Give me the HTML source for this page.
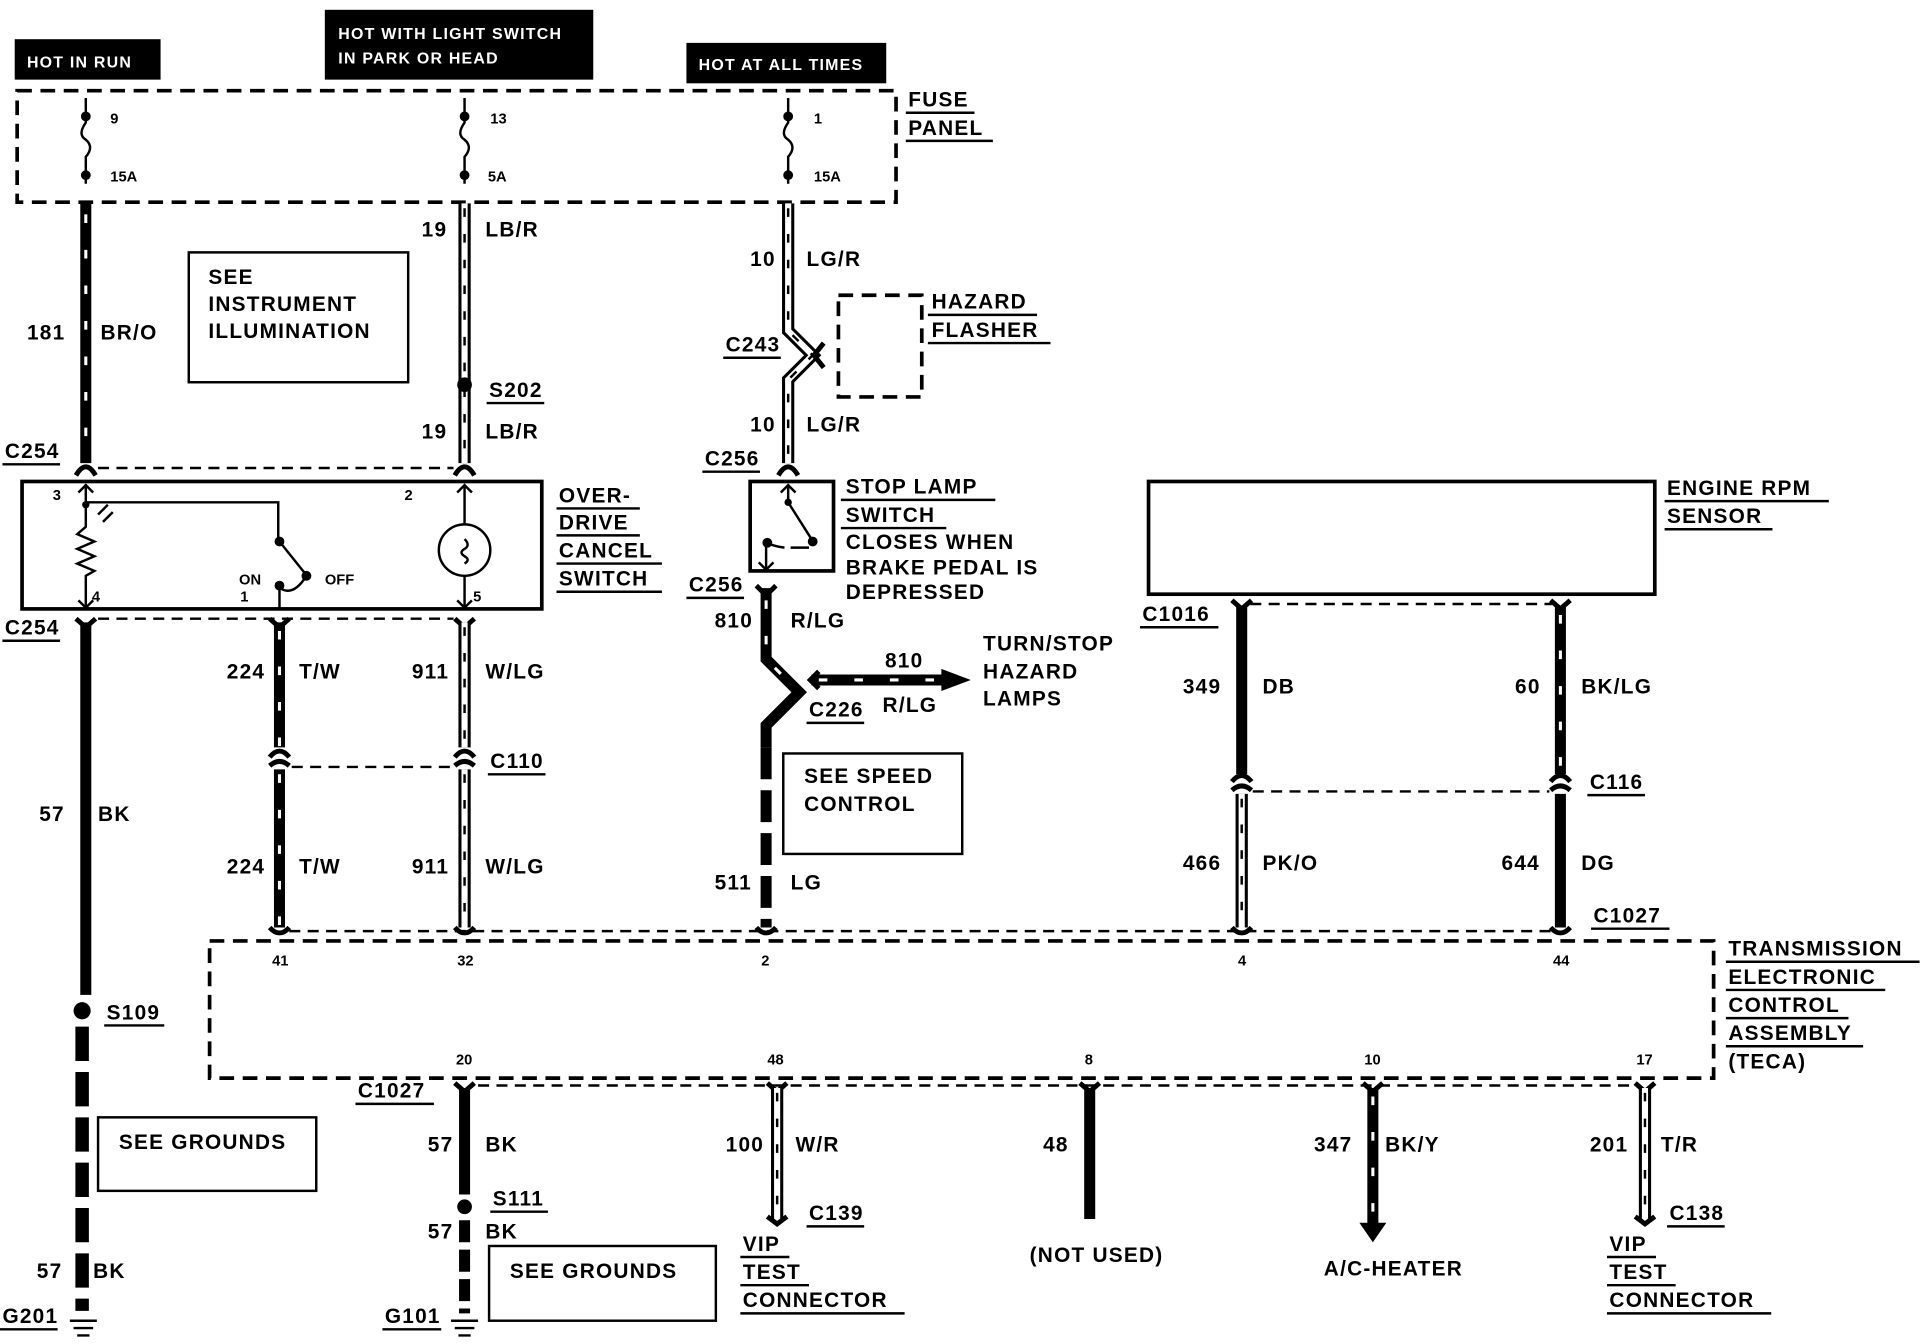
<!DOCTYPE html>
<html><head><meta charset="utf-8"><style>
html,body{margin:0;padding:0;background:#fff}
svg{display:block}
text{font-family:"Liberation Sans",sans-serif;font-size:17px;font-weight:bold;fill:#000;letter-spacing:1px}
.s{font-size:12px;letter-spacing:0}
.bw{stroke:#000;stroke-width:9;fill:none}
.bd{stroke:#fff;stroke-width:2.5;stroke-dasharray:7 22;fill:none}
.wo{stroke:#000;stroke-width:10;fill:none}
.wi{stroke:#fff;stroke-width:5;fill:none}
.wd{stroke:#000;stroke-width:2;stroke-dasharray:7 14;fill:none}
.dl{stroke:#000;stroke-width:2;stroke-dasharray:9 6;fill:none}
.db{stroke:#000;stroke-width:3;stroke-dasharray:12 7;fill:none}
.bx{stroke:#000;stroke-width:2;fill:none}
.ln{stroke:#000;stroke-width:2;fill:none}
.cn{stroke:#000;stroke-width:4;fill:none}
</style></head><body>
<svg width="1922" height="1344" viewBox="0 0 1568 1097" preserveAspectRatio="none" xmlns="http://www.w3.org/2000/svg">
<!-- header boxes -->
<rect x="12" y="32" width="119" height="33" fill="#000"/>
<text x="22" y="55" fill="#fff" style="fill:#fff;font-size:13px">HOT IN RUN</text>
<rect x="265" y="8" width="219" height="57" fill="#000"/>
<text x="276" y="32" style="fill:#fff;font-size:13px">HOT WITH LIGHT SWITCH</text>
<text x="276" y="52" style="fill:#fff;font-size:13px">IN PARK OR HEAD</text>
<rect x="560" y="35" width="163" height="33" fill="#000"/>
<text x="570" y="57" style="fill:#fff;font-size:13px">HOT AT ALL TIMES</text>
<!-- fuse panel -->
<rect x="14" y="74" width="717" height="91" class="db"/>
<text x="741" y="87">FUSE</text><line x1="739" y1="92" x2="795" y2="92" class="ln"/>
<text x="741" y="110">PANEL</text><line x1="739" y1="115" x2="810" y2="115" class="ln"/>
<g>
<circle cx="70" cy="95" r="4"/><circle cx="70" cy="143" r="4"/>
<path d="M70 80 V100 q-7 10 0 14 q7 6 0 14 V150" class="ln" stroke-width="2.5"/>
<text x="90" y="101" class="s">9</text><text x="90" y="148" class="s">15A</text>
<circle cx="379" cy="95" r="4"/><circle cx="379" cy="143" r="4"/>
<path d="M379 80 V100 q-7 10 0 14 q7 6 0 14 V150" class="ln" stroke-width="2.5"/>
<text x="400" y="101" class="s">13</text><text x="398" y="148" class="s">5A</text>
<circle cx="643" cy="95" r="4"/><circle cx="643" cy="143" r="4"/>
<path d="M643 80 V100 q-7 10 0 14 q7 6 0 14 V150" class="ln" stroke-width="2.5"/>
<text x="664" y="101" class="s">1</text><text x="664" y="148" class="s">15A</text>
</g>
<!-- 181 BR/O -->
<path d="M70 166 V378" class="bw"/><path d="M70 175 V378" class="bd"/>
<text x="22" y="277">181</text><text x="82" y="277">BR/O</text>
<rect x="154" y="206" width="179" height="106" class="bx"/>
<text x="170" y="232">SEE</text><text x="170" y="254">INSTRUMENT</text><text x="170" y="276">ILLUMINATION</text>
<!-- LB/R -->
<path d="M379 166 V378" class="wo"/><path d="M379 166 V378" class="wi"/><path d="M379 170 V378" class="wd"/>
<circle cx="379" cy="314" r="6"/>
<text x="344" y="193">19</text><text x="396" y="193">LB/R</text>
<text x="399" y="324">S202</text><line x1="397" y1="329" x2="444" y2="329" class="ln"/>
<text x="344" y="358">19</text><text x="396" y="358">LB/R</text>
<!-- C254 top -->
<text x="4" y="374">C254</text><line x1="2" y1="379" x2="49" y2="379" class="ln"/>
<path d="M62 388 Q70 374 78 388 M371 388 Q379 374 387 388" class="cn"/>
<line x1="80" y1="382" x2="370" y2="382" class="dl"/>
<!-- overdrive box -->
<rect x="18" y="393" width="424" height="104" fill="none" stroke="#000" stroke-width="3"/>
<text x="43" y="408" class="s">3</text><text x="330" y="408" class="s">2</text>
<path d="M70 395 V410 M70 410 H227 V442 M70 410 V430 l-7 6 14 6 -14 6 14 6 -14 6 14 6 -7 4 V495" class="ln" stroke-width="2.5"/>
<path d="M64 402 L70 396 L76 402 M64 490 L70 496 L76 490" class="ln"/>
<circle cx="70" cy="412" r="3"/>
<path d="M80 420 l8 -8 M84 426 l8 -8" class="ln"/>
<circle cx="228" cy="442" r="4"/><path d="M228 442 L248 467" class="ln" stroke-width="2.5"/><circle cx="250" cy="470" r="4"/><circle cx="228" cy="478" r="4"/>
<path d="M228 478 V497 M230 481 Q240 486 250 470" class="ln"/>
<text x="195" y="477" class="s">ON</text><text x="265" y="477" class="s">OFF</text>
<text x="75" y="491" class="s">4</text><text x="196" y="491" class="s">1</text><text x="386" y="491" class="s">5</text>
<path d="M379 396 V428 M379 470 V496 M373 402 L379 396 L385 402 M373 490 L379 496 L385 490" class="ln" stroke-width="2.5"/>
<circle cx="379" cy="449" r="21" class="ln" stroke-width="2.5"/>
<path d="M379 440 q5 5 0 8 q-5 3 0 6 q5 3 0 6" class="ln"/>
<text x="456" y="410">OVER-</text><line x1="454" y1="415" x2="522" y2="415" class="ln"/>
<text x="456" y="432">DRIVE</text><line x1="454" y1="437" x2="522" y2="437" class="ln"/>
<text x="456" y="455">CANCEL</text><line x1="454" y1="460" x2="540" y2="460" class="ln"/>
<text x="456" y="478">SWITCH</text><line x1="454" y1="483" x2="540" y2="483" class="ln"/>
<!-- C254 bottom -->
<text x="4" y="518">C254</text><line x1="2" y1="523" x2="49" y2="523" class="ln"/>
<path d="M62 505 L70 512 L78 505 M220 505 L228 512 L236 505 M371 505 L379 512 L387 505" class="cn"/>
<line x1="80" y1="505" x2="370" y2="505" class="dl"/>
<!-- 57 BK left -->
<path d="M70 508 V812" class="bw"/>
<circle cx="67" cy="825" r="7"/>
<path d="M67 838 V1070" stroke="#000" stroke-width="11" stroke-dasharray="28 9"/>
<text x="32" y="670">57</text><text x="80" y="670">BK</text>
<text x="87" y="832">S109</text><line x1="85" y1="837" x2="134" y2="837" class="ln"/>
<rect x="80" y="912" width="178" height="60" class="bx"/><text x="97" y="938">SEE GROUNDS</text>
<text x="30" y="1043">57</text><text x="76" y="1043">BK</text>
<text x="2" y="1080">G201</text><line x1="0" y1="1085" x2="47" y2="1085" class="ln"/>
<path d="M57 1078 H79 M60 1084 H76 M63 1090 H73" class="ln" stroke-width="2.5"/>
<!-- 224 T/W -->
<path d="M228 508 V610 M228 628 V757" class="bw"/><path d="M228 515 V610 M228 632 V757" class="bd"/>
<path d="M220 618 Q228 608 236 618 M220 625 Q228 618 236 625" class="cn"/>
<text x="185" y="554">224</text><text x="244" y="554">T/W</text>
<text x="185" y="713">224</text><text x="244" y="713">T/W</text>
<line x1="238" y1="626" x2="370" y2="626" class="dl"/>
<!-- 911 W/LG -->
<path d="M379 508 V610 M379 628 V757" class="wo"/><path d="M379 508 V610 M379 628 V757" class="wi"/><path d="M379 512 V610 M379 632 V757" class="wd"/>
<path d="M371 618 Q379 608 387 618 M371 625 Q379 618 387 625" class="cn"/>
<text x="336" y="554">911</text><text x="396" y="554">W/LG</text>
<text x="336" y="713">911</text><text x="396" y="713">W/LG</text>
<text x="400" y="627">C110</text><line x1="398" y1="632" x2="445" y2="632" class="ln"/>
<!-- LG/R hazard -->
<path d="M643 166 V270 L663 290 L643 310 V378" class="wo"/><path d="M643 166 V270 L663 290 L643 310 V378" class="wi"/><path d="M643 170 V270 L663 290 L643 310 V378" class="wd"/>
<path d="M672 280 L664 290 L672 300" class="cn"/>
<rect x="684" y="241" width="68" height="83" class="db"/>
<text x="612" y="217">10</text><text x="658" y="217">LG/R</text>
<text x="612" y="352">10</text><text x="658" y="352">LG/R</text>
<text x="592" y="287">C243</text><line x1="590" y1="292" x2="637" y2="292" class="ln"/>
<text x="760" y="252">HAZARD</text><line x1="757" y1="257" x2="846" y2="257" class="ln"/>
<text x="760" y="275">FLASHER</text><line x1="757" y1="280" x2="857" y2="280" class="ln"/>
<text x="575" y="380">C256</text><line x1="573" y1="385" x2="620" y2="385" class="ln"/>
<path d="M635 388 Q643 374 651 388" class="cn"/>
<!-- stop lamp switch -->
<rect x="612" y="393" width="68" height="73" fill="none" stroke="#000" stroke-width="3"/>
<path d="M643 396 V410 L662 440 M637 402 L643 396 L649 402 M625 445 V465 M619 459 L625 465 L631 459 M625 443 Q632 446 640 447 M645 447 H660" class="ln" stroke-width="2.5"/>
<circle cx="643" cy="410" r="3"/><circle cx="663" cy="442" r="4"/><circle cx="626" cy="443" r="4"/>
<text x="690" y="403">STOP LAMP</text><line x1="686" y1="408" x2="812" y2="408" class="ln"/>
<text x="690" y="426">SWITCH</text><line x1="686" y1="431" x2="772" y2="431" class="ln"/>
<text x="690" y="448">CLOSES WHEN</text><text x="690" y="469">BRAKE PEDAL IS</text><text x="690" y="489">DEPRESSED</text>
<text x="562" y="483">C256</text><line x1="560" y1="488" x2="607" y2="488" class="ln"/>
<path d="M617 478 L625 486 L633 478" class="cn"/>
<!-- 810 R/LG -->
<path d="M625 480 V538 L652 565 L625 592 V610" class="bw"/><path d="M625 490 V538 L652 565" class="bd"/>
<path d="M625 610 V757" stroke="#000" stroke-width="9" stroke-dasharray="26 9" fill="none"/>
<path d="M662 555 H770" class="bw"/><path d="M668 555 H770" class="bd"/>
<path d="M768 546 L792 555 L768 564 Z"/>
<path d="M668 548 L661 555 L668 562" class="cn"/>
<text x="583" y="512">810</text><text x="645" y="512">R/LG</text>
<text x="722" y="545">810</text><text x="720" y="581">R/LG</text>
<text x="660" y="585">C226</text><line x1="658" y1="590" x2="705" y2="590" class="ln"/>
<text x="802" y="531">TURN/STOP</text><text x="802" y="554">HAZARD</text><text x="802" y="576">LAMPS</text>
<rect x="639" y="615" width="146" height="82" class="bx"/><text x="656" y="639">SEE SPEED</text><text x="656" y="662">CONTROL</text>
<text x="583" y="726">511</text><text x="645" y="726">LG</text>
<!-- engine rpm -->
<rect x="937" y="393" width="413" height="92" fill="none" stroke="#000" stroke-width="3"/>
<text x="1360" y="404">ENGINE RPM</text><line x1="1358" y1="409" x2="1492" y2="409" class="ln"/>
<text x="1360" y="427">SENSOR</text><line x1="1358" y1="432" x2="1446" y2="432" class="ln"/>
<text x="932" y="507">C1016</text><line x1="930" y1="512" x2="994" y2="512" class="ln"/>
<line x1="1020" y1="493" x2="1266" y2="493" class="dl"/>
<path d="M1005 490 L1013 497 L1021 490 M1265 490 L1273 497 L1281 490" class="cn"/>
<path d="M1013 495 V632" class="bw"/>
<path d="M1273 495 V632" class="bw"/><path d="M1273 502 V632" class="bd"/>
<path d="M1005 638 Q1013 628 1021 638 M1005 645 Q1013 638 1021 645 M1265 638 Q1273 628 1281 638 M1265 645 Q1273 638 1281 645" class="cn"/>
<line x1="1022" y1="646" x2="1264" y2="646" class="dl"/>
<text x="1297" y="644">C116</text><line x1="1295" y1="649" x2="1342" y2="649" class="ln"/>
<path d="M1013 648 V757" class="wo"/><path d="M1013 648 V757" class="wi"/><path d="M1013 652 V757" class="wd"/>
<path d="M1273 648 V757" class="bw"/>
<text x="965" y="566">349</text><text x="1030" y="566">DB</text>
<text x="1236" y="566">60</text><text x="1290" y="566">BK/LG</text>
<text x="965" y="710">466</text><text x="1030" y="710">PK/O</text>
<text x="1225" y="710">644</text><text x="1290" y="710">DG</text>
<text x="1300" y="753">C1027</text><line x1="1298" y1="758" x2="1362" y2="758" class="ln"/>
<!-- TECA -->
<rect x="171" y="768" width="1227" height="112" class="db"/>
<path d="M220 757 Q228 766 236 757 M371 757 Q379 766 387 757 M617 757 Q625 766 633 757 M1005 757 Q1013 766 1021 757 M1265 757 Q1273 766 1281 757" class="cn"/>
<line x1="236" y1="760" x2="1265" y2="760" class="dl"/>
<text x="222" y="788" class="s">41</text><text x="373" y="788" class="s">32</text><text x="621" y="788" class="s">2</text><text x="1010" y="788" class="s">4</text><text x="1267" y="788" class="s">44</text>
<text x="372" y="869" class="s">20</text><text x="626" y="869" class="s">48</text><text x="885" y="869" class="s">8</text><text x="1113" y="869" class="s">10</text><text x="1335" y="869" class="s">17</text>
<text x="1410" y="780">TRANSMISSION</text><line x1="1408" y1="785" x2="1566" y2="785" class="ln"/>
<text x="1410" y="803">ELECTRONIC</text><line x1="1408" y1="808" x2="1538" y2="808" class="ln"/>
<text x="1410" y="826">CONTROL</text><line x1="1408" y1="831" x2="1508" y2="831" class="ln"/>
<text x="1410" y="849">ASSEMBLY</text><line x1="1408" y1="854" x2="1520" y2="854" class="ln"/>
<text x="1410" y="872">(TECA)</text>
<text x="292" y="896">C1027</text><line x1="290" y1="901" x2="354" y2="901" class="ln"/>
<line x1="390" y1="886" x2="1332" y2="886" class="dl"/>
<path d="M371 884 L379 891 L387 884 M626 884 L634 891 L642 884 M881 884 L889 891 L897 884 M1112 884 L1120 891 L1128 884 M1334 884 L1342 891 L1350 884" class="cn"/>
<!-- bottom wires -->
<path d="M379 888 V975" class="bw"/><circle cx="379" cy="985" r="6"/>
<path d="M379 996 V1072" stroke="#000" stroke-width="9" stroke-dasharray="18 6" fill="none"/>
<text x="349" y="940">57</text><text x="396" y="940">BK</text>
<text x="402" y="984">S111</text><line x1="400" y1="989" x2="447" y2="989" class="ln"/>
<text x="349" y="1011">57</text><text x="396" y="1011">BK</text>
<rect x="399" y="1017" width="185" height="61" class="bx"/><text x="416" y="1043">SEE GROUNDS</text>
<text x="314" y="1080">G101</text><line x1="312" y1="1085" x2="360" y2="1085" class="ln"/>
<path d="M368 1078 H390 M371 1084 H387 M374 1090 H384" class="ln" stroke-width="2.5"/>
<path d="M634 888 V995" class="wo"/><path d="M634 888 V995" class="wi"/><path d="M634 892 V995" class="wd"/>
<path d="M626 993 L634 999 L642 993" class="cn"/>
<text x="592" y="940">100</text><text x="649" y="940">W/R</text>
<text x="660" y="996">C139</text><line x1="658" y1="1001" x2="705" y2="1001" class="ln"/>
<text x="606" y="1021">VIP</text><line x1="604" y1="1026" x2="644" y2="1026" class="ln"/>
<text x="606" y="1044">TEST</text><line x1="604" y1="1049" x2="660" y2="1049" class="ln"/>
<text x="606" y="1067">CONNECTOR</text><line x1="604" y1="1072" x2="738" y2="1072" class="ln"/>
<path d="M889 888 V995" class="bw"/>
<text x="851" y="940">48</text><text x="840" y="1030">(NOT USED)</text>
<path d="M1120 888 V1000" class="bw"/><path d="M1120 895 V1000" class="bd"/>
<path d="M1109 998 L1120 1014 L1131 998 Z"/>
<text x="1072" y="940">347</text><text x="1130" y="940">BK/Y</text>
<text x="1080" y="1041">A/C-HEATER</text>
<path d="M1342 888 V995" class="wo"/><path d="M1342 888 V995" class="wi"/><path d="M1342 892 V995" class="wd"/>
<path d="M1334 993 L1342 999 L1350 993" class="cn"/>
<text x="1297" y="940">201</text><text x="1355" y="940">T/R</text>
<text x="1362" y="996">C138</text><line x1="1360" y1="1001" x2="1407" y2="1001" class="ln"/>
<text x="1313" y="1021">VIP</text><line x1="1311" y1="1026" x2="1351" y2="1026" class="ln"/>
<text x="1313" y="1044">TEST</text><line x1="1311" y1="1049" x2="1367" y2="1049" class="ln"/>
<text x="1313" y="1067">CONNECTOR</text><line x1="1311" y1="1072" x2="1445" y2="1072" class="ln"/>
</svg>
</body></html>
